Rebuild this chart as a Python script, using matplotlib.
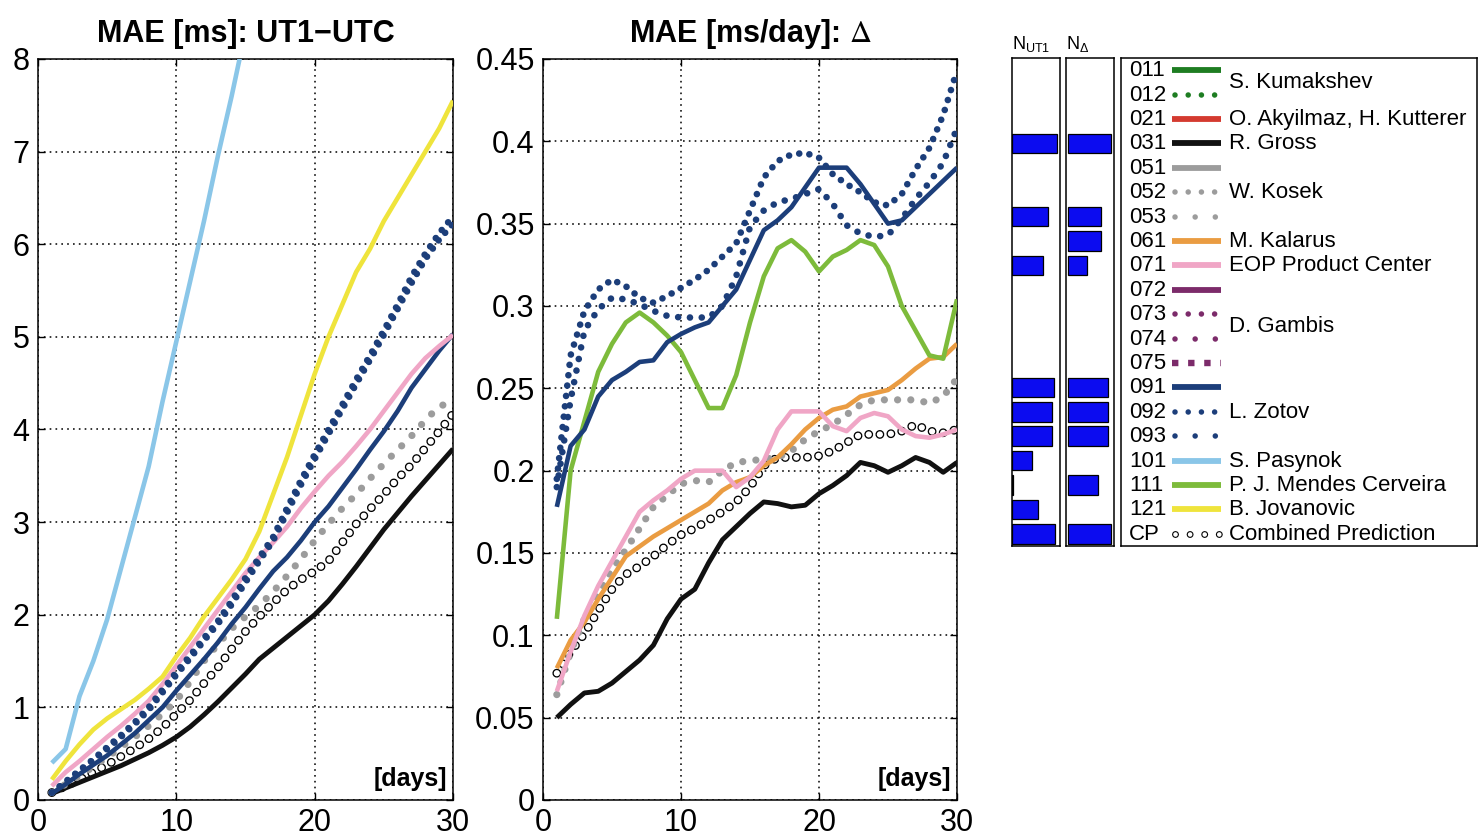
import matplotlib
matplotlib.use("Agg")
import matplotlib.pyplot as plt
import numpy as np

plt.rcParams['font.family'] = ['Liberation Sans', 'DejaVu Sans']
plt.rcParams['mathtext.fontset'] = 'stix'
plt.rcParams['lines.scale_dashes'] = False

# ---------------- data ----------------
days = list(range(1, 31))

# UT1-UTC MAE [ms]
ut1_101 = [0.40, 0.55, 1.12, 1.50, 1.95, 2.50, 3.05, 3.60, 4.30, 4.95, 5.60, 6.25, 6.95, 7.60, 8.30]
ut1_121 = [0.22, 0.42, 0.60, 0.76, 0.88, 0.98, 1.08, 1.20, 1.33, 1.55, 1.75, 1.98, 2.18, 2.38, 2.60,
           2.90, 3.30, 3.70, 4.15, 4.60, 5.00, 5.35, 5.70, 5.95, 6.25, 6.50, 6.75, 7.00, 7.25, 7.55]
ut1_092 = [0.08, 0.20, 0.32, 0.44, 0.57, 0.70, 0.84, 1.00, 1.19, 1.38, 1.56, 1.75, 1.93, 2.15, 2.40,
           2.62, 2.84, 3.15, 3.45, 3.73, 4.00, 4.27, 4.54, 4.80, 5.07, 5.35, 5.65, 5.90, 6.12, 6.30]
ut1_093 = [0.08, 0.19, 0.31, 0.43, 0.55, 0.68, 0.82, 0.97, 1.16, 1.35, 1.53, 1.72, 1.90, 2.11, 2.35,
           2.58, 2.80, 3.10, 3.40, 3.68, 3.95, 4.22, 4.49, 4.75, 5.02, 5.30, 5.58, 5.84, 6.05, 6.22]
ut1_071 = [0.15, 0.30, 0.42, 0.55, 0.68, 0.80, 0.93, 1.07, 1.25, 1.45, 1.65, 1.85, 2.05, 2.25, 2.45,
           2.62, 2.78, 2.95, 3.15, 3.33, 3.50, 3.65, 3.82, 4.00, 4.20, 4.40, 4.60, 4.77, 4.90, 5.02]
ut1_091 = [0.07, 0.17, 0.28, 0.38, 0.48, 0.60, 0.72, 0.86, 1.00, 1.18, 1.35, 1.52, 1.70, 1.90, 2.08,
           2.28, 2.47, 2.62, 2.80, 3.00, 3.17, 3.37, 3.57, 3.78, 3.98, 4.20, 4.45, 4.65, 4.85, 5.03]
ut1_053 = [0.08, 0.17, 0.26, 0.36, 0.46, 0.57, 0.68, 0.80, 0.93, 1.07, 1.28, 1.50, 1.68, 1.85, 1.98,
           2.10, 2.25, 2.42, 2.60, 2.80, 2.98, 3.15, 3.30, 3.47, 3.63, 3.78, 3.93, 4.10, 4.25, 4.30]
ut1_031 = [0.07, 0.13, 0.19, 0.25, 0.31, 0.37, 0.44, 0.51, 0.59, 0.68, 0.79, 0.92, 1.06, 1.21, 1.36,
           1.52, 1.64, 1.76, 1.88, 2.00, 2.15, 2.33, 2.52, 2.72, 2.92, 3.10, 3.28, 3.45, 3.62, 3.79]
ut1_cp = [0.08, 0.15, 0.22, 0.30, 0.38, 0.47, 0.56, 0.66, 0.78, 0.93, 1.08, 1.26, 1.43, 1.63, 1.82,
          1.98, 2.13, 2.27, 2.38, 2.47, 2.58, 2.78, 2.98, 3.14, 3.30, 3.47, 3.62, 3.80, 3.98, 4.17]

# Delta MAE [ms/day]
d_091 = [0.178, 0.215, 0.225, 0.245, 0.255, 0.260, 0.266, 0.267, 0.278, 0.283, 0.287, 0.290, 0.300, 0.310, 0.328,
         0.346, 0.352, 0.360, 0.372, 0.384, 0.384, 0.384, 0.374, 0.362, 0.350, 0.352, 0.360, 0.368, 0.376, 0.384]
d_092 = [0.195, 0.270, 0.297, 0.310, 0.316, 0.312, 0.305, 0.302, 0.306, 0.311, 0.316, 0.322, 0.330, 0.338, 0.358,
         0.378, 0.388, 0.392, 0.393, 0.390, 0.380, 0.374, 0.369, 0.363, 0.361, 0.368, 0.383, 0.396, 0.416, 0.443]
d_093 = [0.190, 0.243, 0.285, 0.298, 0.305, 0.304, 0.301, 0.297, 0.294, 0.293, 0.293, 0.293, 0.300, 0.318, 0.348,
         0.358, 0.363, 0.365, 0.368, 0.371, 0.362, 0.349, 0.344, 0.342, 0.343, 0.353, 0.365, 0.375, 0.387, 0.408]
d_111 = [0.110, 0.200, 0.230, 0.260, 0.277, 0.290, 0.296, 0.290, 0.282, 0.272, 0.255, 0.238, 0.238, 0.258, 0.290,
         0.318, 0.335, 0.340, 0.333, 0.321, 0.330, 0.334, 0.340, 0.337, 0.324, 0.300, 0.285, 0.270, 0.268, 0.304]
d_061 = [0.080, 0.097, 0.108, 0.122, 0.135, 0.148, 0.154, 0.160, 0.165, 0.170, 0.175, 0.180, 0.188, 0.193, 0.196,
         0.203, 0.208, 0.216, 0.225, 0.232, 0.237, 0.239, 0.245, 0.247, 0.249, 0.255, 0.262, 0.268, 0.269, 0.277]
d_071 = [0.066, 0.090, 0.112, 0.130, 0.145, 0.160, 0.175, 0.182, 0.188, 0.195, 0.200, 0.200, 0.200, 0.190, 0.196,
         0.206, 0.225, 0.236, 0.236, 0.236, 0.227, 0.224, 0.232, 0.235, 0.233, 0.225, 0.221, 0.220, 0.222, 0.225]
d_053 = [0.064, 0.090, 0.110, 0.125, 0.140, 0.152, 0.165, 0.178, 0.185, 0.192, 0.194, 0.193, 0.200, 0.205, 0.206,
         0.207, 0.208, 0.212, 0.219, 0.224, 0.228, 0.234, 0.240, 0.243, 0.243, 0.243, 0.243, 0.241, 0.245, 0.256]
d_031 = [0.050, 0.058, 0.065, 0.066, 0.071, 0.078, 0.085, 0.094, 0.110, 0.122, 0.128, 0.144, 0.158, 0.166, 0.174,
         0.181, 0.180, 0.178, 0.179, 0.186, 0.191, 0.197, 0.205, 0.203, 0.199, 0.203, 0.208, 0.205, 0.199, 0.205]
d_cp = [0.077, 0.090, 0.101, 0.115, 0.128, 0.137, 0.142, 0.148, 0.155, 0.161, 0.165, 0.170, 0.175, 0.181, 0.190,
        0.203, 0.208, 0.208, 0.208, 0.209, 0.212, 0.217, 0.222, 0.222, 0.222, 0.224, 0.228, 0.224, 0.223, 0.225]

# legend rows and counts
codes = ['011', '012', '021', '031', '051', '052', '053', '061', '071', '072',
         '073', '074', '075', '091', '092', '093', '101', '111', '121', 'CP']
n_ut1 = [0, 0, 0, 93, 0, 0, 75, 0, 65, 0, 0, 0, 0, 87, 84, 84, 42, 2, 54, 90]
n_delta = [0, 0, 0, 89, 0, 0, 69, 69, 39, 0, 0, 0, 0, 82, 82, 82, 0, 62, 0, 89]
names = ['S. Kumakshev', 'O. Akyilmaz, H. Kutterer', 'R. Gross', 'W. Kosek', 'M. Kalarus',
         'EOP Product Center', 'D. Gambis', 'L. Zotov', 'S. Pasynok', 'P. J. Mendes Cerveira',
         'B. Jovanovic', 'Combined Prediction']
name_rows = [0.5, 2, 3, 5, 7, 8, 10.5, 14, 16, 17, 18, 19]

# ---------------- styles ----------------
C = {
    'dgreen': '#1e7d22', 'red': '#d43a30', 'black': '#111111', 'gray': '#9c9c9c',
    'orange': '#ea9c42', 'pink': '#f0a6c6', 'purple': '#7c2b6a', 'navy': '#1c3e7a',
    'lblue': '#8ac6e8', 'lgreen': '#7dbb3b', 'yellow': '#efe43c',
}
LW = 3.3


def solid(ax, x, y, color, lw=LW, z=3):
    ax.plot(x, y, color=color, lw=lw, solid_capstyle='butt', zorder=z)


def dotted(ax, x, y, color, lw, gap, z=3):
    ax.plot(x, y, color=color, lw=lw, dashes=(0.01, gap), dash_capstyle='round', zorder=z)


def rings(ax, x, y, outer, inner, gap, z=2):
    ax.plot(x, y, color='black', lw=outer, dashes=(0.01, gap), dash_capstyle='round', zorder=z)
    ax.plot(x, y, color='white', lw=inner, dashes=(0.01, gap), dash_capstyle='round', zorder=z + 0.01)


def style_axes(ax, ymax, yticks, ylabels):
    ax.set_xlim(0, 30)
    ax.set_ylim(0, ymax)
    ax.set_xticks([0, 10, 20, 30])
    ax.set_yticks(yticks)
    ax.set_yticklabels(ylabels)
    ax.tick_params(labelsize=22, direction='in', length=5, width=1, top=True, right=True, pad=6)
    ax.grid(True, color='black', lw=1.1, linestyle=(0, (1.2, 3.0)))
    ax.set_axisbelow(True)
    for s in ax.spines.values():
        s.set_linewidth(1.1)
    ax.text(0.985, 0.012, '[days]', transform=ax.transAxes, ha='right', va='bottom',
            fontsize=18, fontweight='bold', zorder=10)


fig = plt.figure(figsize=(14.78, 8.39), dpi=100)

# ---------------- left panel ----------------
ax1 = fig.add_axes([0.0257, 0.0465, 0.2808, 0.8832])
rings(ax1, days, ut1_cp, 6.4, 4.5, 8.0)
solid(ax1, days, ut1_031, C['black'], lw=3.5)
dotted(ax1, days, ut1_053, C['gray'], 5.2, 10.5)
solid(ax1, days, ut1_091, C['navy'])
solid(ax1, days, ut1_071, C['pink'])
dotted(ax1, days, ut1_093, C['navy'], 4.8, 7.2)
dotted(ax1, days, ut1_092, C['navy'], 4.8, 7.2)
solid(ax1, days, ut1_121, C['yellow'])
solid(ax1, days[:len(ut1_101)], ut1_101, C['lblue'])
style_axes(ax1, 8, list(range(9)), [str(v) for v in range(9)])
ax1.set_title('MAE [ms]: UT1\u2212UTC', fontsize=22, fontweight='bold', pad=12)

# ---------------- middle panel ----------------
ax2 = fig.add_axes([0.3674, 0.0465, 0.2801, 0.8832])
rings(ax2, days, d_cp, 6.4, 4.5, 8.0)
solid(ax2, days, d_031, C['black'], lw=3.5)
dotted(ax2, days, d_053, C['gray'], 5.2, 9.5)
solid(ax2, days, d_061, C['orange'])
solid(ax2, days, d_071, C['pink'])
solid(ax2, days, d_111, C['lgreen'])
solid(ax2, days, d_091, C['navy'])
dotted(ax2, days, d_093, C['navy'], 4.8, 8.5)
dotted(ax2, days, d_092, C['navy'], 4.8, 7.5)
yt = [0, 0.05, 0.1, 0.15, 0.2, 0.25, 0.3, 0.35, 0.4, 0.45]
style_axes(ax2, 0.45, yt, ['%g' % v for v in yt])
ax2.set_title('MAE [ms/day]: $\\Delta$', fontsize=22, fontweight='bold', pad=12)

# ---------------- count bars ----------------
rows = np.arange(len(codes))
bar_color = '#0c0cf0'


def count_bars(ax, counts):
    r = [i for i, v in zip(rows, counts) if v > 0]
    v = [c for c in counts if c > 0]
    ax.barh(r, v, height=0.8, color=bar_color, edgecolor='black', lw=0.9)


axn1 = fig.add_axes([0.6847, 0.3492, 0.0325, 0.5816])
count_bars(axn1, n_ut1)
axn1.set_xlim(0, 100)
axn2 = fig.add_axes([0.7212, 0.3492, 0.0325, 0.5816])
count_bars(axn2, n_delta)
axn2.set_xlim(-5, 95)
for a, lab in ((axn1, '$\\mathregular{N_{UT1}}$'), (axn2, '$\\mathregular{N_{\\Delta}}$')):
    a.set_ylim(len(codes) - 0.5, -0.5)
    a.set_xticks([])
    a.set_yticks([])
    for s in a.spines.values():
        s.set_linewidth(1.1)
    a.text(0.0, 1.008, lab, transform=a.transAxes, ha='left', va='bottom', fontsize=13)

# ---------------- legend box ----------------
axl = fig.add_axes([0.7585, 0.3492, 0.2407, 0.5816])
axl.set_xlim(0, 1)
axl.set_ylim(len(codes) - 0.5, -0.5)
axl.set_xticks([])
axl.set_yticks([])
for s in axl.spines.values():
    s.set_linewidth(1.1)

LX0, LX1 = 0.143, 0.281
leg_style = {
    '011': ('solid', C['dgreen']), '012': ('dense', C['dgreen']), '021': ('solid', C['red']),
    '031': ('solid', C['black']), '051': ('solid', C['gray']), '052': ('dense', C['gray']),
    '053': ('sparse', C['gray']), '061': ('solid', C['orange']), '071': ('solid', C['pink']),
    '072': ('solid', C['purple']), '073': ('dense', C['purple']), '074': ('sparse', C['purple']),
    '075': ('square', C['purple']), '091': ('solid', C['navy']), '092': ('dense', C['navy']),
    '093': ('sparse', C['navy']), '101': ('solid', C['lblue']), '111': ('solid', C['lgreen']),
    '121': ('solid', C['yellow']), 'CP': ('ring', 'black'),
}
for i, code in enumerate(codes):
    axl.text(0.0225, i + 0.02, code, ha='left', va='center', fontsize=16)
    kind, col = leg_style[code]
    xs, ys = [LX0, LX1], [i, i]
    if kind == 'solid':
        axl.plot(xs, ys, color=col, lw=4.2, solid_capstyle='butt')
    elif kind == 'dense':
        axl.plot([LX0 + 0.008, LX1], ys, color=col, lw=4.0, dashes=(0.01, 9.5), dash_capstyle='round')
    elif kind == 'sparse':
        axl.plot([LX0 + 0.008, LX1], ys, color=col, lw=4.0, dashes=(0.01, 14.5), dash_capstyle='round')
    elif kind == 'square':
        axl.plot(xs, ys, color=col, lw=4.6, dashes=(4.6, 7.0), dash_capstyle='butt')
    elif kind == 'ring':
        axl.plot([LX0 + 0.01, LX1], ys, color='black', lw=5.0, dashes=(0.01, 10.5), dash_capstyle='round')
        axl.plot([LX0 + 0.01, LX1], ys, color='white', lw=3.4, dashes=(0.01, 10.5), dash_capstyle='round')
for nm, r in zip(names, name_rows):
    axl.text(0.303, r + 0.02, nm, ha='left', va='center', fontsize=16)

fig.savefig('out.png', dpi=100)
